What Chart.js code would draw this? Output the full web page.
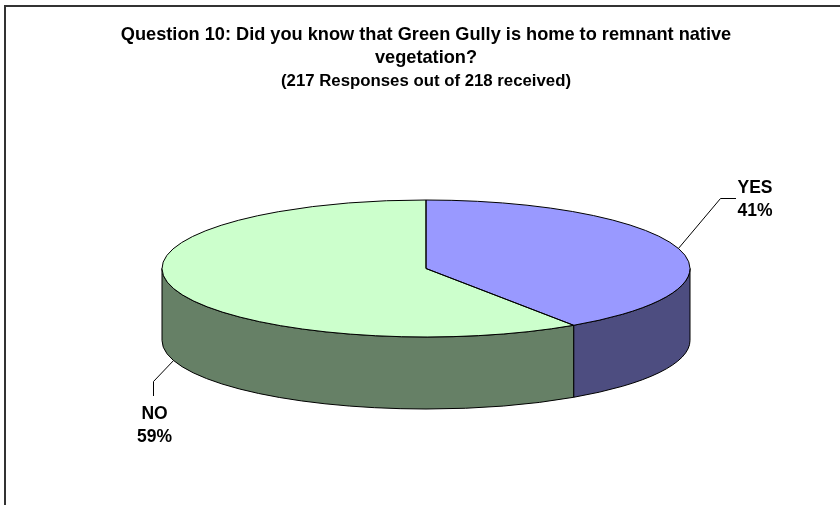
<!DOCTYPE html>
<html>
<head>
<meta charset="utf-8">
<style>
html,body{margin:0;padding:0;background:#fff;}
#wrap{position:relative;width:840px;height:505px;overflow:hidden;}
#frame{position:absolute;left:4px;top:5px;width:836px;height:500px;border-left:2px solid #333;border-top:2px solid #333;box-sizing:border-box;}
canvas{position:absolute;left:0;top:0;}
</style>
<script src="https://cdn.jsdelivr.net/npm/chart.js@4"></script>
</head>
<body>
<div id="wrap"><canvas id="c" width="840" height="505"></canvas><div id="frame"></div></div>
<script>
const categories = ['YES', 'NO'];
const responses = [88, 129];
const topColors = ['#9999FF', '#CCFFCC'];
const sideColors = ['#4D4D80', '#668066'];
const titleLines = ['Question 10: Did you know that Green Gully is home to remnant native', 'vegetation?'];
const subtitleLine = '(217 Responses out of 218 received)';

const CY = 268.5, TILT = 68.5 / 264, DEPTH = 72;
const total = responses.reduce((a, b) => a + b, 0);

const pie3d = {
  id: 'pie3d',
  beforeDatasetsDraw(chart) {
    const ctx = chart.ctx;
    const arcs = chart.getDatasetMeta(0).data;
    ctx.save();
    ctx.lineWidth = 1;
    ctx.strokeStyle = '#000';
    arcs.forEach((arc, i) => {
      const rx = arc.outerRadius, ry = rx * TILT;
      const a0 = Math.max(arc.startAngle, 0), a1 = Math.min(arc.endAngle, Math.PI);
      if (a1 <= a0) return;
      ctx.beginPath();
      ctx.ellipse(arc.x, CY, rx, ry, 0, a0, a1);
      ctx.ellipse(arc.x, CY + DEPTH, rx, ry, 0, a1, a0, true);
      ctx.closePath();
      ctx.fillStyle = sideColors[i];
      ctx.fill();
      ctx.stroke();
    });
    ctx.restore();
    const a = arcs[0];
    ctx.save();
    ctx.translate(0, CY);
    ctx.scale(1, TILT);
    ctx.translate(0, -a.y);
  },
  afterDatasetsDraw(chart) {
    const ctx = chart.ctx;
    ctx.restore();
    const arcs = chart.getDatasetMeta(0).data;
    ctx.save();
    ctx.lineWidth = 1;
    ctx.strokeStyle = '#000';
    arcs.forEach(arc => {
      const rx = arc.outerRadius, ry = rx * TILT;
      ctx.beginPath();
      ctx.moveTo(arc.x, CY);
      ctx.ellipse(arc.x, CY, rx, ry, 0, arc.startAngle, arc.endAngle);
      ctx.closePath();
      ctx.stroke();
    });
    // leader lines and data labels
    ctx.font = 'bold 17.5px "Liberation Sans", Arial, sans-serif';
    ctx.textAlign = 'center';
    ctx.textBaseline = 'alphabetic';
    arcs.forEach((arc, i) => {
      const rx = arc.outerRadius, ry = rx * TILT;
      const mid = (arc.startAngle + arc.endAngle) / 2;
      const px = arc.x + rx * Math.cos(mid);
      const front = Math.sin(mid) > 0;
      const py = CY + ry * Math.sin(mid) + (front ? DEPTH : 0);
      ctx.beginPath();
      ctx.moveTo(px, py);
      let lx, ly1, ly2;
      if (front) {
        ctx.lineTo(153.5, 381.5);
        ctx.lineTo(153.5, 396);
        lx = 154.5; ly1 = 419; ly2 = 442;
      } else {
        ctx.lineTo(720.5, 198.5);
        ctx.lineTo(736, 198.5);
        lx = 755; ly1 = 193; ly2 = 216;
      }
      ctx.stroke();
      ctx.fillStyle = '#000';
      ctx.fillText(categories[i], lx, ly1);
      ctx.fillText(Math.round(responses[i] / total * 100) + '%', lx, ly2);
    });
    ctx.restore();
  }
};

new Chart(document.getElementById('c'), {
  type: 'pie',
  data: {
    labels: categories,
    datasets: [{
      data: responses,
      backgroundColor: topColors,
      borderWidth: 0,
      radius: 264,
      clip: false
    }]
  },
  options: {
    responsive: false,
    animation: false,
    layout: { padding: { left: 12 } },
    plugins: {
      legend: { display: false },
      tooltip: { enabled: false },
      title: {
        display: true,
        text: titleLines,
        color: '#000',
        font: { family: '"Liberation Sans", Arial, sans-serif', size: 18.2, weight: 'bold', lineHeight: 1.264 },
        padding: { top: 23, bottom: 0 }
      },
      subtitle: {
        display: true,
        text: subtitleLine,
        color: '#000',
        font: { family: '"Liberation Sans", Arial, sans-serif', size: 16.8, weight: 'bold', lineHeight: 1.2 },
        padding: { top: 2, bottom: 0 }
      }
    }
  },
  plugins: [pie3d]
});
</script>
</body>
</html>
